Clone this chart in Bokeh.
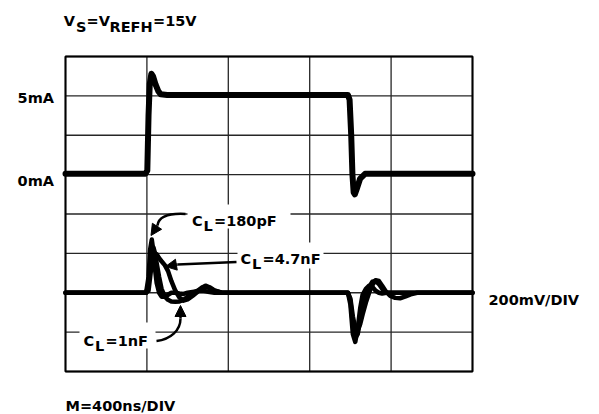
from bokeh.plotting import figure
from bokeh.models import Range1d, Label, Arrow, NormalHead
from bokeh.embed import file_html
from bokeh.resources import INLINE

# ---------------- data (divisions) ----------------
x_div_ticks = [0, 1, 2, 3, 4, 5]
y_div_ticks = [0, 1, 2, 3, 4, 5, 6, 7, 8]

# supply current trace (0mA at 5 div, 5mA at 7 div)
x_cur = [0.00, 0.98, 1.005, 1.02, 1.035, 1.055, 1.075, 1.105, 1.14, 1.17, 1.25,
         3.47, 3.49, 3.51, 3.525, 3.54, 3.555, 3.58, 3.62, 3.68, 5.00]
y_cur = [5.02, 5.02, 5.10, 6.50, 7.30, 7.56, 7.50, 7.30, 7.12, 7.04, 7.02,
         7.02, 6.90, 6.00, 5.00, 4.55, 4.50, 4.65, 4.90, 5.02, 5.02]

# voltage traces (baseline at 2 div)
x_v = [0.00, 0.99, 1.02, 1.04, 1.06, 1.08, 1.10, 1.12, 1.15, 1.18,
       1.22, 1.26, 1.30, 1.35, 1.40, 1.45, 1.50, 1.56, 1.62, 1.67,
       1.72, 1.77, 1.83, 1.92, 2.05, 3.47, 3.50, 3.53, 3.56, 3.59,
       3.62, 3.65, 3.69, 3.73, 3.77, 3.81, 3.85, 3.89, 3.94, 3.99,
       4.05, 4.11, 4.17, 4.24, 4.32, 5.00]
v_180p = [2.00, 2.00, 2.40, 3.10, 3.35, 3.05, 2.60, 2.25, 2.00, 1.90,
          1.90, 1.95, 2.00, 2.00, 1.98, 1.97, 2.00, 2.02, 2.04, 2.05,
          2.04, 2.02, 2.00, 2.00, 2.00, 2.00, 1.70, 0.95, 0.75, 1.10,
          1.60, 1.95, 2.10, 2.18, 2.15, 2.05, 2.00, 1.98, 2.00, 2.00,
          2.00, 2.00, 2.00, 2.00, 2.00, 2.00]
v_1n = [2.00, 2.00, 2.20, 2.75, 3.10, 3.15, 3.00, 2.75, 2.40, 2.10,
        1.90, 1.82, 1.78, 1.77, 1.78, 1.82, 1.90, 1.98, 2.05, 2.12,
        2.15, 2.12, 2.05, 2.00, 2.00, 2.00, 1.80, 1.20, 0.85, 0.95,
        1.30, 1.65, 1.95, 2.15, 2.28, 2.30, 2.22, 2.10, 2.00, 2.00,
        2.00, 2.00, 2.00, 2.00, 2.00, 2.00]
v_4n7 = [2.00, 2.00, 2.05, 2.40, 2.75, 2.95, 3.00, 2.98, 2.88, 2.80,
         2.70, 2.55, 2.30, 2.05, 1.88, 1.80, 1.83, 1.92, 2.02, 2.12,
         2.18, 2.14, 2.06, 2.00, 2.00, 2.00, 1.85, 1.40, 1.10, 1.05,
         1.20, 1.45, 1.75, 2.00, 2.20, 2.32, 2.30, 2.18, 2.02, 1.92,
         1.87, 1.86, 1.90, 1.96, 2.00, 2.00]

FONT = "DejaVu Sans"
FS = "14.5px"

W, H = 599, 414
# graticule box in picture pixels
GX0, GX1, GY0, GY1 = 65.0, 472.0, 56.0, 371.0
NX, NY = x_div_ticks[-1], y_div_ticks[-1]

def dx(px):
    return (px - GX0) * NX / (GX1 - GX0)

def dy(py):
    return (GY1 - py) * NY / (GY1 - GY0)

p = figure(width=W, height=H, title=None,
           x_range=Range1d(dx(0), dx(W)), y_range=Range1d(dy(H), dy(0)),
           x_axis_type=None, y_axis_type=None,
           output_backend="svg", toolbar_location=None,
           min_border=0)
p.background_fill_color = "white"
p.border_fill_color = "white"
p.outline_line_color = None
p.xgrid.visible = False
p.ygrid.visible = False

# graticule
p.segment(x0=x_div_ticks, y0=[0] * len(x_div_ticks), x1=x_div_ticks, y1=[NY] * len(x_div_ticks),
          line_color="#262626", line_width=1.3)
p.segment(x0=[0] * len(y_div_ticks), y0=y_div_ticks, x1=[NX] * len(y_div_ticks), y1=y_div_ticks,
          line_color="#262626", line_width=1.3)
p.quad(left=[0], right=[NX], bottom=[0], top=[NY], fill_color=None,
       line_color="black", line_width=2)

# white backgrounds behind in-plot labels
p.quad(left=[dx(187), dx(237), dx(79)], right=[dx(290), dx(323), dx(155)],
       bottom=[dy(228), dy(268), dy(348)], top=[dy(204), dy(242), dy(322)],
       fill_color="white", line_color=None)

# traces
p.line(x_cur, y_cur, line_color="black", line_width=6, line_join="round", line_cap="round")
for v in (v_4n7, v_1n, v_180p):
    p.line(x_v, v, line_color="black", line_width=4.5, line_join="round", line_cap="round")

def lab(x, y, text, align="left", size=FS):
    p.add_layout(Label(x=x, y=y, text=text, text_font=FONT, text_font_style="bold",
                       text_font_size=size, text_color="black",
                       text_align=align, text_baseline="alphabetic"))

# title  V_S = V_REFH = 15V
lab(dx(63.3), dy(20.5), "V")
lab(dx(75.5), dy(26.5), "S")
lab(dx(86.0), dy(20.5), "=V")
lab(dx(109.0), dy(26.5), "REFH")
lab(dx(152.5), dy(20.5), "=15V")

lab(dx(53.5), dy(97), "5mA", align="right")
lab(dx(53.5), dy(180), "0mA", align="right")
lab(dx(488), dy(299), "200mV/DIV")
lab(dx(65), dy(405.5), "M=400ns/DIV")

# C_L labels
lab(dx(191.5), dy(220), "C")
lab(dx(203), dy(225), "L")
lab(dx(213.5), dy(220), "=180pF")

lab(dx(240), dy(258.5), "C")
lab(dx(251.5), dy(263.5), "L")
lab(dx(262), dy(258.5), "=4.7nF")

lab(dx(83), dy(340), "C")
lab(dx(94.5), dy(345), "L")
lab(dx(105), dy(340), "=1nF")

# arrows
head = dict(size=11, fill_color="black", line_color="black")
p.bezier(x0=[dx(185)], y0=[dy(213.5)], x1=[dx(157)], y1=[dy(225)],
         cx0=[dx(166)], cy0=[dy(212.5)], cx1=[dx(158)], cy1=[dy(217)],
         line_color="black", line_width=2.5)
p.add_layout(Arrow(x_start=dx(157), y_start=dy(225), x_end=dx(150.5), y_end=dy(235),
                   line_width=2.5, line_color="black", end=NormalHead(**head)))

p.segment(x0=[dx(236)], y0=[dy(261.5)], x1=[dx(177)], y1=[dy(264)],
          line_color="black", line_width=2.5)
p.add_layout(Arrow(x_start=dx(177), y_start=dy(264), x_end=dx(165), y_end=dy(266),
                   line_width=2.5, line_color="black", end=NormalHead(**head)))

p.bezier(x0=[dx(156)], y0=[dy(340.5)], x1=[dx(180)], y1=[dy(318)],
         cx0=[dx(170)], cy0=[dy(339)], cx1=[dx(180)], cy1=[dy(330)],
         line_color="black", line_width=2.5)
p.add_layout(Arrow(x_start=dx(180), y_start=dy(318), x_end=dx(180), y_end=dy(305),
                   line_width=2.5, line_color="black", end=NormalHead(**head)))

open("out.html", "w").write(file_html(p, INLINE))
